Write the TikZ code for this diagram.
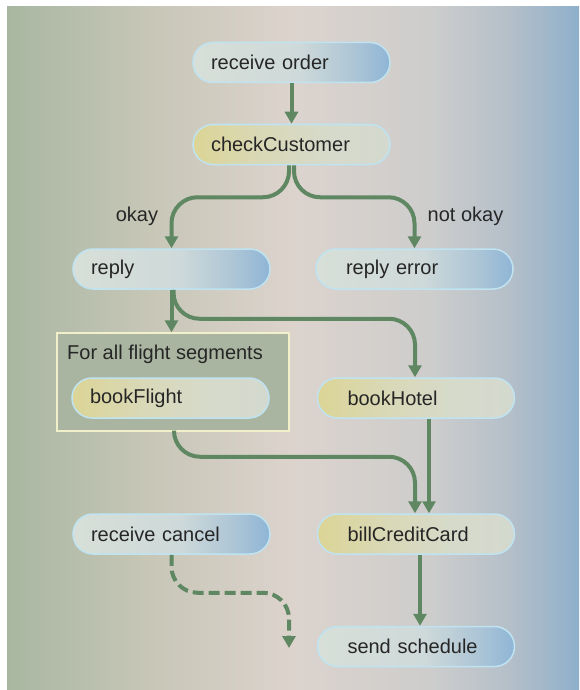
\documentclass[tikz,border=0pt]{standalone}
\usepackage{fontspec}
\setmainfont{Liberation Sans}
\usetikzlibrary{arrows.meta}

\definecolor{bgA}{HTML}{A8B7A1}
\definecolor{bgB}{HTML}{C6C6B6}
\definecolor{bgC}{HTML}{DCD3CD}
\definecolor{bgD}{HTML}{CDCDCC}
\definecolor{bgE}{HTML}{B4BFC9}
\definecolor{bgF}{HTML}{8EB0CB}
\pgfdeclarehorizontalshading{bgshade}{100bp}{color(0bp)=(bgA); color(25bp)=(bgA); color(37bp)=(bgB); color(50bp)=(bgC); color(62bp)=(bgD); color(69bp)=(bgE); color(75bp)=(bgF); color(100bp)=(bgF)}

\definecolor{nbA}{HTML}{D7DFD8}
\definecolor{nbB}{HTML}{CED9D9}
\definecolor{nbC}{HTML}{ACC5D6}
\definecolor{nbD}{HTML}{8FB5D6}
\pgfdeclarehorizontalshading{blueshade}{100bp}{color(0bp)=(nbA); color(25bp)=(nbA); color(52bp)=(nbB); color(66bp)=(nbC); color(75bp)=(nbD); color(100bp)=(nbD)}

\definecolor{nyA}{HTML}{DCD596}
\definecolor{nyB}{HTML}{D9D8B6}
\definecolor{nyC}{HTML}{D6DACB}
\definecolor{nyD}{HTML}{D4D9CF}
\pgfdeclarehorizontalshading{yellowshade}{100bp}{color(0bp)=(nyA); color(25bp)=(nyA); color(42bp)=(nyB); color(60bp)=(nyC); color(75bp)=(nyD); color(100bp)=(nyD)}

\definecolor{nodeborder}{HTML}{BFE3F0}
\definecolor{textcol}{HTML}{262626}
\definecolor{arrowcol}{HTML}{5E8762}
\definecolor{loopfill}{HTML}{A9B5A1}
\definecolor{loopborder}{HTML}{F2EFCB}

\tikzset{
  pill/.style={rectangle, rounded corners=20pt, draw=nodeborder, line width=1.5pt,
    minimum height=40pt, inner ysep=0pt, align=left, text=textcol,
    font=\fontsize{20}{24}\selectfont},
  leftpill/.style={pill, inner xsep=18pt, text width=161pt},
  rightpill/.style={pill, inner xsep=30pt, text width=137pt},
  bluepill/.style={shading=blueshade},
  yellowpill/.style={shading=yellowshade},
  lbl/.style={text=textcol, font=\fontsize{20}{24}\selectfont, inner sep=0pt},
  flow/.style={draw=arrowcol, line width=4pt, rounded corners=26pt,
    -{Triangle[length=12pt,width=13pt]}},
  cancelflow/.style={flow, dash pattern=on 11pt off 5pt}
}

\begin{document}
\begin{tikzpicture}[x=1pt,y=-1pt]
  \useasboundingbox (0,0) rectangle (579,690);
  \fill[white] (0,0) rectangle (579,690);
  \fill[shading=bgshade] (7,7) rectangle (579,690);

  % loop box
  \node[draw=loopborder, fill=loopfill, line width=1.5pt, minimum width=232pt,
        minimum height=98pt, inner sep=0pt] (loop) at (173,382) {};
  \node[lbl, anchor=west] (looplabel) at (67,354) {For all flight segments};

  % activity nodes
  \node[leftpill, bluepill] (ro) at (291.5,62.5) {receive order};
  \node[leftpill, yellowpill] (cc) at (291.5,144.5) {checkCustomer};
  \node[leftpill, bluepill] (reply) at (171.5,269) {reply};
  \node[rightpill, bluepill] (rerr) at (414.5,269) {reply error};
  \node[leftpill, yellowpill] (bf) at (170.5,398) {bookFlight};
  \node[rightpill, yellowpill] (bh) at (416,398) {bookHotel};
  \node[leftpill, bluepill] (rc) at (171.5,534) {receive cancel};
  \node[rightpill, yellowpill] (bcc) at (416,534) {billCreditCard};
  \node[rightpill, bluepill] (ss) at (416,646.5) {send schedule};

  % labels
  \node[lbl] (okaylbl) at (137,216) {okay};
  \node[lbl] (notokaylbl) at (465.5,216) {not okay};

  \coordinate (cancelend) at (289,648);

  % connectors
  \draw[flow] (ro.south) -- (cc.north);
  \draw[flow] ([xshift=-2.5pt]cc.south) -- ++(0,32) -| (reply.north);
  \draw[flow] ([xshift=2.5pt]cc.south) -- ++(0,32) -| (rerr.north);
  \draw[flow] (reply.south) -- (reply.south |- loop.north);
  \draw[flow] ([xshift=2pt]reply.south) -- ++(0,29) -| ([xshift=-1pt]bh.north);
  \draw[flow] ([xshift=1pt]loop.south) -- ++(0,25) -| ([xshift=-1pt]bcc.north);
  \draw[flow] ([xshift=13pt]bh.south) -- ([xshift=13pt]bcc.north);
  \draw[flow] ([xshift=4pt]bcc.south) -- ([xshift=4pt]ss.north);
  \draw[cancelflow] (rc.south) -- ++(0,38) -| (cancelend);
\end{tikzpicture}
\end{document}
